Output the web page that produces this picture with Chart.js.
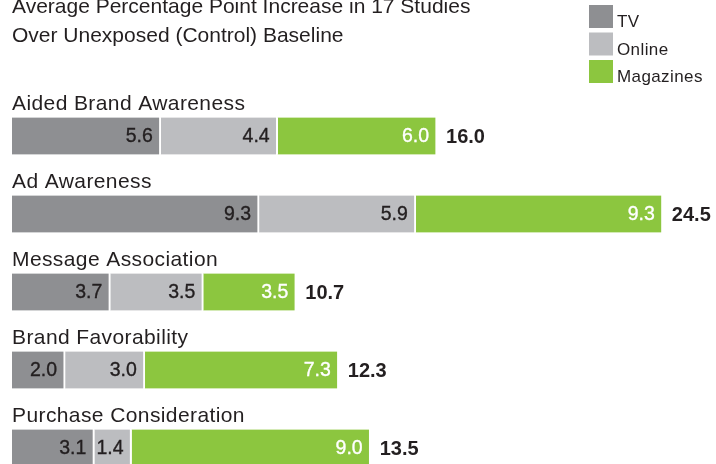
<!DOCTYPE html>
<html>
<head>
<meta charset="utf-8">
<script src="https://cdn.jsdelivr.net/npm/chart.js@4/dist/chart.umd.min.js"></script>
<style>
  html, body { margin: 0; padding: 0; background: #fff; overflow: hidden; }
  #wrap { position: relative; width: 716px; height: 490px; }
</style>
</head>
<body>
<div id="wrap"><canvas id="myChart"></canvas></div>
<script>
const categories = ['Aided Brand Awareness', 'Ad Awareness', 'Message Association', 'Brand Favorability', 'Purchase Consideration'];
const tvValues = [5.6, 9.3, 3.7, 2.0, 3.1];
const onlineValues = [4.4, 5.9, 3.5, 3.0, 1.4];
const magazineValues = [6.0, 9.3, 3.5, 7.3, 9.0];
const totals = [16.0, 24.5, 10.7, 12.3, 13.5];
const titleLines = ['Average Percentage Point Increase in 17 Studies', 'Over Unexposed (Control) Baseline'];

const textColor = '#231f20';
const font = '"Liberation Sans", Arial, Helvetica, sans-serif';

// title, legend, category names, value labels and totals
const decorations = {
  id: 'decorations',
  afterDatasetsDraw(chart) {
    const ctx = chart.ctx;
    const yScale = chart.scales.y;
    ctx.save();
    ctx.fillStyle = textColor;
    ctx.textBaseline = 'alphabetic';
    ctx.textAlign = 'left';
    ctx.font = '21px ' + font;
    ctx.fillText(titleLines[0], 12, 13);
    ctx.fillText(titleLines[1], 12, 42);

    ctx.letterSpacing = '0.4px';
    // legend
    chart.data.datasets.forEach((ds, i) => {
      const top = 5 + i * 27.5;
      ctx.fillStyle = ds.backgroundColor;
      ctx.fillRect(589, top, 24, 23);
      ctx.fillStyle = textColor;
      ctx.font = '17px ' + font;
      ctx.fillText(ds.label, 617, top + 22);
    });

    // category labels above bars
    ctx.font = '21px ' + font;
    categories.forEach((c, i) => {
      const y = yScale.getPixelForValue(i);
      ctx.fillText(c, 12, y - 26.5);
    });

    // values inside segments
    ctx.letterSpacing = '0px';
    ctx.font = '19.5px ' + font;
    ctx.textAlign = 'right';
    ctx.textBaseline = 'middle';
    ctx.lineWidth = 0.35;
    chart.data.datasets.forEach((ds, di) => {
      const meta = chart.getDatasetMeta(di);
      meta.data.forEach((bar, i) => {
        const c = di === 2 ? '#ffffff' : textColor;
        ctx.fillStyle = c;
        ctx.strokeStyle = c;
        ctx.fillText(ds.data[i].toFixed(1), bar.x - 8, bar.y + 1);
        ctx.strokeText(ds.data[i].toFixed(1), bar.x - 8, bar.y + 1);
      });
    });

    // totals
    ctx.font = 'bold 20px ' + font;
    ctx.textAlign = 'left';
    ctx.fillStyle = textColor;
    const last = chart.getDatasetMeta(2);
    last.data.forEach((bar, i) => {
      ctx.fillText(totals[i].toFixed(1), bar.x + 9, bar.y + 1);
    });
    ctx.restore();
  }
};

const ctx = document.getElementById('myChart').getContext('2d');
new Chart(ctx, {
  type: 'bar',
  data: {
    labels: categories,
    datasets: [
      { label: 'TV', data: tvValues, backgroundColor: '#8e8f92' },
      { label: 'Online', data: onlineValues, backgroundColor: '#bcbdc0' },
      { label: 'Magazines', data: magazineValues, backgroundColor: '#8cc63f' }
    ]
  },
  options: {
    indexAxis: 'y',
    responsive: true,
    maintainAspectRatio: false,
    animation: false,
    layout: { padding: { top: 97, bottom: 3, left: 12, right: 0 } },
    datasets: {
      bar: {
        barThickness: 37,
        borderColor: '#ffffff',
        borderWidth: { right: 2 },
        borderSkipped: false
      }
    },
    scales: {
      x: { stacked: true, display: false, min: 0, max: 26.5 },
      y: { stacked: true, display: false }
    },
    plugins: {
      legend: { display: false },
      tooltip: { enabled: false }
    }
  },
  plugins: [decorations]
});
</script>
</body>
</html>
